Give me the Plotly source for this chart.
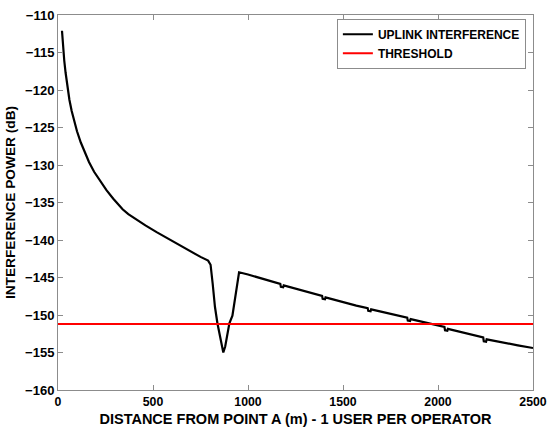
import plotly.graph_objects as go

# Uplink interference curve (distance in m, power in dB)
distance_m = [21, 24, 28, 33, 40, 49, 60, 72, 85, 100, 120, 140, 163, 190, 220, 255, 291, 320, 340,
              370, 410, 460, 519, 560, 600, 650, 695, 750, 790, 803, 814, 826, 839, 850, 860, 870, 880,
              890, 902, 918, 935, 953, 1000, 1063, 1120, 1170, 1173, 1185, 1188, 1250, 1320, 1390,
              1393, 1405, 1408, 1500, 1570, 1630, 1633, 1645, 1648, 1700, 1747, 1800, 1838, 1841,
              1853, 1856, 1920, 1993, 2034, 2037, 2049, 2052, 2120, 2180, 2238, 2241, 2253, 2256,
              2330, 2420, 2500]
interference_db = [-112.1, -113.3, -114.7, -116.1, -117.7, -119.6, -121.3, -122.8, -124.2, -125.5,
                   -127.0, -128.3, -129.6, -130.9, -132.1, -133.35, -134.5, -135.35, -135.9,
                   -136.55, -137.25, -138.05, -138.95, -139.55, -140.15, -140.85, -141.5, -142.25, -142.75,
                   -143.3, -145.8, -148.9, -151.1, -152.6, -153.9, -155.0, -154.2, -152.8, -151.1,
                   -150.1, -147.2, -144.3, -144.6, -145.1, -145.5, -145.85, -146.25, -146.3, -146.05,
                   -146.5, -147.0, -147.45, -147.85, -147.9, -147.65, -148.3, -148.75, -149.1,
                   -149.45, -149.5, -149.25, -149.55, -149.8, -150.1, -150.35, -150.75, -150.8,
                   -150.55, -150.95, -151.35, -151.6, -152.05, -152.1, -151.85, -152.25, -152.65,
                   -153.0, -153.5, -153.55, -153.25, -153.65, -154.05, -154.4]

threshold_x = [0, 2500]
threshold_db = [-151.2, -151.2]

x_ticks = [0, 500, 1000, 1500, 2000, 2500]
y_ticks = [-160, -155, -150, -145, -140, -135, -130, -125, -120, -115, -110]

font_family = "Liberation Sans, Arial, Helvetica, sans-serif"

fig = go.Figure()
fig.add_trace(go.Scatter(x=distance_m, y=interference_db, mode="lines",
                         name="UPLINK INTERFERENCE",
                         line=dict(color="black", width=2.2)))
fig.add_trace(go.Scatter(x=threshold_x, y=threshold_db, mode="lines",
                         name="THRESHOLD",
                         line=dict(color="#ff0000", width=1.8)))

axis_common = dict(showgrid=False, zeroline=False, showline=True, mirror="ticks",
                   linecolor="#8c8c8c", linewidth=1, ticks="inside", ticklen=5,
                   tickcolor="#8c8c8c", automargin=False)

fig.update_layout(
    width=547, height=431,
    margin=dict(l=58, r=14, t=15, b=41),
    paper_bgcolor="white", plot_bgcolor="white",
    showlegend=True,
    legend=dict(x=0.985, y=0.99, xanchor="right", yanchor="top",
                bgcolor="white", bordercolor="#8c8c8c", borderwidth=1,
                font=dict(family=font_family, size=12, color="black", weight="bold"),
                tracegroupgap=0, itemwidth=30),
    xaxis=dict(range=[0, 2500], tickvals=x_ticks,
               tickfont=dict(family=font_family, size=12.3, color="black", weight="bold"),
               title=dict(text="DISTANCE FROM POINT A (m) - 1 USER PER OPERATOR", standoff=6,
                          font=dict(family=font_family, size=14.5, color="black", weight="bold")),
               **axis_common),
    yaxis=dict(range=[-160, -110], tickvals=y_ticks,
               tickfont=dict(family=font_family, size=13, color="black", weight="bold"),
               title=dict(text="INTERFERENCE POWER (dB)", standoff=6,
                          font=dict(family=font_family, size=13.7, color="black", weight="bold")),
               **axis_common),
)

fig.write_html("out.html")
